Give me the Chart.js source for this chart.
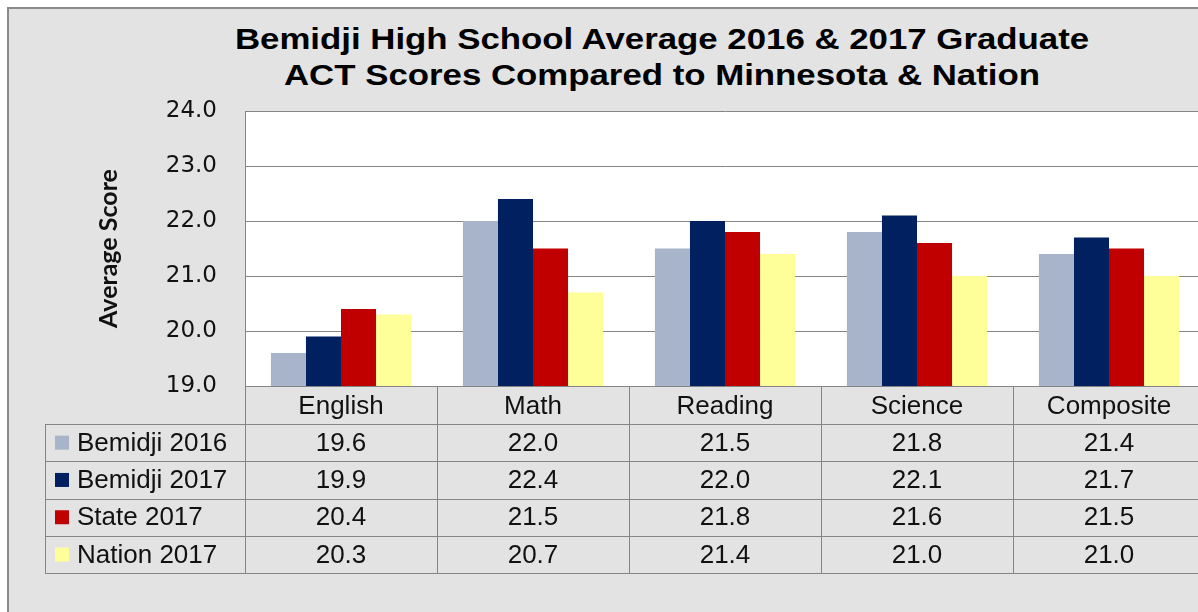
<!DOCTYPE html>
<html>
<head>
<meta charset="utf-8">
<script src="https://cdn.jsdelivr.net/npm/chart.js@4.4.1/dist/chart.umd.min.js"></script>
<style>
  html, body { margin: 0; padding: 0; background: #ffffff; width: 1198px; height: 612px; overflow: hidden; }
  .frame {
    position: absolute; left: 7px; top: 7px; width: 1300px; height: 700px;
    border: 2px solid #8a8a8a; background: #e3e3e3;
  }
  .chart-title {
    position: absolute; left: 0; top: 21px; width: 1324px;
    text-align: center; font: bold 29px "Liberation Sans", Arial, sans-serif;
    line-height: 36px; color: #000; transform: scaleX(1.2); transform-origin: center;
  }
  .chart-wrap { position: absolute; left: 0; top: 0; width: 1215px; height: 612px; }
</style>
</head>
<body>
<div class="frame"></div>
<div class="chart-title">Bemidji High School Average 2016 &amp; 2017 Graduate<br>ACT Scores Compared to Minnesota &amp; Nation</div>
<div class="chart-wrap"><canvas id="actChart" width="1215" height="612"></canvas></div>
<script>
    // Chart data
    const subjects = ['English', 'Math', 'Reading', 'Science', 'Composite'];
    const bemidji2016 = [19.6, 22.0, 21.5, 21.8, 21.4];
    const bemidji2017 = [19.9, 22.4, 22.0, 22.1, 21.7];
    const state2017 = [20.4, 21.5, 21.8, 21.6, 21.5];
    const nation2017 = [20.3, 20.7, 21.4, 21.0, 21.0];
    const seriesNames = ['Bemidji 2016', 'Bemidji 2017', 'State 2017', 'Nation 2017'];
    const seriesColors = ['#a8b4c9', '#002060', '#c00000', '#ffff99'];
    const yTicks = [19, 20, 21, 22, 23, 24];

    const lineColor = '#858585';
    const tableFont = '26px "Liberation Sans", Arial, sans-serif';

    // white plot background
    const plotBackground = {
        id: 'plotBackground',
        beforeDraw(chart) {
            const {ctx, chartArea} = chart;
            ctx.save();
            ctx.fillStyle = '#ffffff';
            ctx.fillRect(chartArea.left, chartArea.top, chartArea.right - chartArea.left, chartArea.bottom - chartArea.top);
            ctx.restore();
        }
    };

    // data table under the x axis
    const dataTable = {
        id: 'dataTable',
        afterDraw(chart) {
            const {ctx, chartArea} = chart;
            const xScale = chart.scales.x;
            const top = chartArea.bottom;
            const headerH = 38;
            const rowH = 37.3;
            const tableLeft = 45;
            const bottom = top + headerH + rowH * seriesNames.length;

            // column edges from the category scale
            const edges = [chartArea.left];
            for (let i = 0; i < subjects.length - 1; i++) {
                edges.push((xScale.getPixelForValue(i) + xScale.getPixelForValue(i + 1)) / 2);
            }
            edges.push(chartArea.right);

            ctx.save();
            ctx.strokeStyle = lineColor;
            ctx.lineWidth = 1;
            ctx.beginPath();
            edges.forEach(x => {
                ctx.moveTo(Math.round(x) + 0.5, top);
                ctx.lineTo(Math.round(x) + 0.5, bottom);
            });
            ctx.moveTo(tableLeft + 0.5, top + headerH);
            ctx.lineTo(tableLeft + 0.5, bottom);
            for (let r = 0; r <= seriesNames.length; r++) {
                const y = Math.round(top + headerH + r * rowH) + 0.5;
                ctx.moveTo(tableLeft, y);
                ctx.lineTo(chartArea.right, y);
            }
            ctx.stroke();

            ctx.font = tableFont;
            ctx.textBaseline = 'middle';
            chart.data.datasets.forEach((ds, r) => {
                const cy = top + headerH + r * rowH + rowH / 2;
                // legend key
                ctx.fillStyle = ds.backgroundColor;
                ctx.fillRect(55, cy - 7, 14, 14);
                ctx.fillStyle = '#111111';
                ctx.textAlign = 'left';
                ctx.fillText(ds.label, 77, cy + 1);
                ctx.textAlign = 'center';
                ds.data.forEach((v, i) => {
                    ctx.fillText(v.toFixed(1), xScale.getPixelForValue(i), cy + 1);
                });
            });
            ctx.restore();
        }
    };

    document.addEventListener('DOMContentLoaded', function () {
        const ctx = document.getElementById('actChart').getContext('2d');
        const allSeries = [bemidji2016, bemidji2017, state2017, nation2017];
        new Chart(ctx, {
            type: 'bar',
            data: {
                labels: subjects,
                datasets: allSeries.map((values, i) => ({
                    label: seriesNames[i],
                    data: values,
                    backgroundColor: seriesColors[i],
                    borderWidth: 0,
                    categoryPercentage: 0.73,
                    barPercentage: 1.0
                }))
            },
            options: {
                responsive: false,
                animation: false,
                layout: {
                    padding: { left: 0, top: 111, right: 10, bottom: 0 }
                },
                plugins: {
                    legend: { display: false },
                    tooltip: { enabled: false },
                    title: { display: false }
                },
                scales: {
                    x: {
                        grid: { display: false, drawTicks: false },
                        border: { display: true, color: lineColor, width: 1 },
                        ticks: {
                            color: '#111111',
                            padding: 5,
                            font: { family: '"Liberation Sans", Arial, sans-serif', size: 26 }
                        },
                        afterFit(scale) { scale.height = 226; }
                    },
                    y: {
                        min: yTicks[0],
                        max: yTicks[yTicks.length - 1],
                        afterBuildTicks(scale) { scale.ticks = yTicks.map(v => ({ value: v })); },
                        grid: { color: lineColor, lineWidth: 1, drawTicks: false },
                        border: { display: true, color: lineColor, width: 1 },
                        ticks: {
                            color: '#111111',
                            padding: 28,
                            font: { family: '"DejaVu Sans", Verdana, sans-serif', size: 23 },
                            callback: v => Number(v).toFixed(1)
                        },
                        title: {
                            display: true,
                            text: 'Average Score',
                            color: '#111111',
                            padding: { top: 94, bottom: 0 },
                            font: { family: 'Lato, "Open Sans", sans-serif', size: 25, weight: 'bold' }
                        },
                        afterFit(scale) { scale.width = 245; }
                    }
                }
            },
            plugins: [plotBackground, dataTable]
        });
    });
</script>
</body>
</html>
